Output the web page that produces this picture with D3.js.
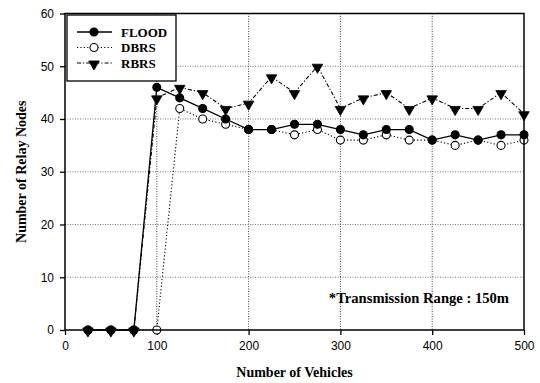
<!DOCTYPE html>
<html>
<head>
<meta charset="utf-8">
<script src="https://cdn.jsdelivr.net/npm/d3@7"></script>
<style>
  body { margin: 0; background: #fff; }
  svg { display: block; }
</style>
</head>
<body>
<div id="svgcontainer"></div>
<script>
// chart data
var vehicles = [25, 50, 75, 100, 125, 150, 175, 200, 225, 250, 275, 300, 325, 350, 375, 400, 425, 450, 475, 500];
var flood = [0, 0, 0, 46, 44, 42, 40, 38, 38, 39, 39, 38, 37, 38, 38, 36, 37, 36, 37, 37];
var dbrs  = [0, 0, 0, 0, 42, 40, 39, 38, 38, 37, 38, 36, 36, 37, 36, 36, 35, 36, 35, 36];
var rbrs  = [0, 0, 0, 44, 46, 45, 42, 43, 48, 45, 50, 42, 44, 45, 42, 44, 42, 42, 45, 41];
var seriesNames = ["FLOOD", "DBRS", "RBRS"];
var xTicks = [0, 100, 200, 300, 400, 500];
var yTicks = [0, 10, 20, 30, 40, 50, 60];

// layout
var WIDTH = 540, HEIGHT = 383;
var PLOT_LEFT = 65, PLOT_RIGHT = 524, PLOT_TOP = 13.5, PLOT_BOTTOM = 330;

var svg_container = d3.select("#svgcontainer")
    .append("svg")
    .attr("width", WIDTH)
    .attr("height", HEIGHT);

var x = d3.scaleLinear().domain([0, 500]).range([PLOT_LEFT, PLOT_RIGHT]);
var y = d3.scaleLinear().domain([0, 60]).range([PLOT_BOTTOM, PLOT_TOP]);

// styles for each series
var styles = {
    FLOOD: { values: flood, dash: null, width: 1.3, marker: "circle", fill: "#000" },
    DBRS:  { values: dbrs, dash: "1.2,2.2", width: 1.1, marker: "circle", fill: "#fff" },
    RBRS:  { values: rbrs, dash: "4,2,1.2,2", width: 1.1, marker: "triangle", fill: "#000" }
};

drawGrid();
drawAxes();
["DBRS", "FLOOD", "RBRS"].forEach(function(name) { drawSeries(name); });
drawFrame();
drawLegend();

// annotation
svg_container.append("text")
    .attr("x", 509)
    .attr("y", 303)
    .attr("text-anchor", "end")
    .style("font-family", "'Liberation Serif', 'DejaVu Serif', serif")
    .style("font-weight", "bold")
    .style("font-size", "14.6px")
    .text("*Transmission Range : 150m");

function drawGrid() {
    var grid = svg_container.append("g");
    grid.selectAll("line.h")
        .data(yTicks.slice(1, -1))
        .enter().append("line")
        .attr("x1", PLOT_LEFT).attr("x2", PLOT_RIGHT)
        .attr("y1", function(d) { return y(d); })
        .attr("y2", function(d) { return y(d); })
        .attr("stroke", "#777")
        .attr("stroke-width", 1)
        .attr("stroke-dasharray", "1,1.5");
    grid.selectAll("line.v")
        .data(xTicks.slice(1, -1))
        .enter().append("line")
        .attr("y1", PLOT_TOP).attr("y2", PLOT_BOTTOM)
        .attr("x1", function(d) { return x(d); })
        .attr("x2", function(d) { return x(d); })
        .attr("stroke", "#444")
        .attr("stroke-width", 1)
        .attr("stroke-dasharray", "1,1.5");
}

function drawAxes() {
    var xAxis = d3.axisBottom(x).tickValues(xTicks).tickSize(5).tickSizeOuter(0).tickPadding(6);
    var yAxis = d3.axisLeft(y).tickValues(yTicks).tickSize(5).tickSizeOuter(0).tickPadding(6);

    var gx = svg_container.append("g")
        .attr("transform", "translate(0," + PLOT_BOTTOM + ")")
        .call(xAxis);
    var gy = svg_container.append("g")
        .attr("transform", "translate(" + PLOT_LEFT + ",0)")
        .call(yAxis);

    [gx, gy].forEach(function(g) {
        g.select(".domain").remove();
        g.selectAll("line").attr("stroke", "#000").attr("stroke-width", 1.3);
        g.selectAll("text")
            .attr("fill", "#000")
            .style("font-family", "'Liberation Sans', Arial, sans-serif")
            .style("font-size", "12px");
    });

    svg_container.append("text")
        .attr("x", (PLOT_LEFT + PLOT_RIGHT) / 2)
        .attr("y", 377)
        .attr("text-anchor", "middle")
        .style("font-family", "'Liberation Serif', 'DejaVu Serif', serif")
        .style("font-weight", "bold")
        .style("font-size", "14px")
        .text("Number of Vehicles");

    svg_container.append("text")
        .attr("transform", "translate(26," + ((PLOT_TOP + PLOT_BOTTOM) / 2) + ") rotate(-90)")
        .attr("text-anchor", "middle")
        .style("font-family", "'Liberation Serif', 'DejaVu Serif', serif")
        .style("font-weight", "bold")
        .style("font-size", "14px")
        .text("Number of Relay Nodes");
}

function drawFrame() {
    svg_container.append("rect")
        .attr("x", PLOT_LEFT).attr("y", PLOT_TOP)
        .attr("width", PLOT_RIGHT - PLOT_LEFT)
        .attr("height", PLOT_BOTTOM - PLOT_TOP)
        .attr("fill", "none")
        .attr("stroke", "#000")
        .attr("stroke-width", 1.5);
}

function drawMarker(g, kind, fill, cx, cy) {
    if (kind == "circle") {
        g.append("circle")
            .attr("cx", cx).attr("cy", cy).attr("r", 4)
            .attr("fill", fill)
            .attr("stroke", "#000")
            .attr("stroke-width", 1.1);
    } else {
        g.append("path")
            .attr("d", d3.symbol().type(d3.symbolTriangle).size(48)())
            .attr("transform", "translate(" + cx + "," + (cy + 1) + ") rotate(180)")
            .attr("fill", fill)
            .attr("stroke", "#000")
            .attr("stroke-width", 0.8);
    }
}

function drawSeries(name) {
    var s = styles[name];
    var points = vehicles.map(function(v, i) { return [v, s.values[i]]; });
    var line = d3.line().x(function(d) { return x(d[0]); }).y(function(d) { return y(d[1]); });
    var g = svg_container.append("g");
    g.append("path")
        .attr("d", line(points))
        .attr("fill", "none")
        .attr("stroke", "#000")
        .attr("stroke-width", s.width)
        .attr("stroke-dasharray", s.dash);
    points.forEach(function(p) {
        drawMarker(g, s.marker, s.fill, x(p[0]), y(p[1]));
    });
}

function drawLegend() {
    var g = svg_container.append("g");
    g.append("rect")
        .attr("x", 67).attr("y", 15)
        .attr("width", 109).attr("height", 66)
        .attr("fill", "#fff")
        .attr("stroke", "#000")
        .attr("stroke-width", 1.3);
    seriesNames.forEach(function(name, i) {
        var s = styles[name];
        var ly = 32 + i * 15.5;
        g.append("line")
            .attr("x1", 77).attr("x2", 112)
            .attr("y1", ly).attr("y2", ly)
            .attr("stroke", "#000")
            .attr("stroke-width", s.width)
            .attr("stroke-dasharray", s.dash);
        drawMarker(g, s.marker, s.fill, 94, ly);
        g.append("text")
            .attr("x", 121).attr("y", ly + 4.5)
            .style("font-family", "'Liberation Serif', 'DejaVu Serif', serif")
            .style("font-weight", "bold")
            .style("font-size", "13px")
            .text(name);
    });
}
</script>
</body>
</html>
